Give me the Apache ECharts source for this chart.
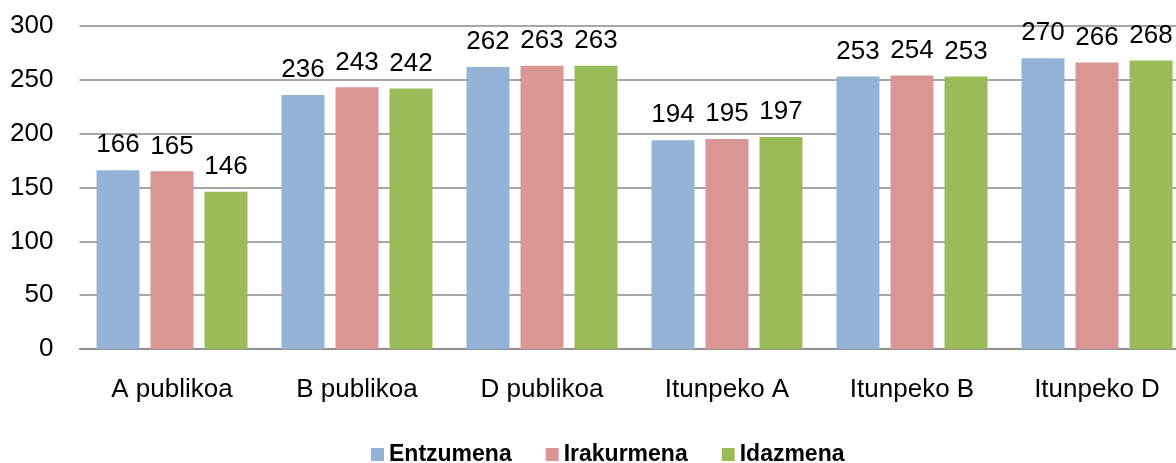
<!DOCTYPE html>
<html>
<head>
<meta charset="utf-8">
<script src="https://cdn.jsdelivr.net/npm/echarts@6/dist/echarts.min.js"></script>
<style>
  html, body { margin: 0; padding: 0; background: #fff; }
  #main { width: 1176px; height: 463px; }
</style>
</head>
<body>
<div id="main"></div>
<script>
var categories = ['A publikoa', 'B publikoa', 'D publikoa', 'Itunpeko A', 'Itunpeko B', 'Itunpeko D'];
var seriesNames = ['Entzumena', 'Irakurmena', 'Idazmena'];
var entzumena = [166, 236, 262, 194, 253, 270];
var irakurmena = [165, 243, 263, 195, 254, 266];
var idazmena = [146, 242, 263, 197, 253, 268];
var colors = ['#95B3D7', '#D99694', '#9BBB59'];

var myChart = echarts.init(document.getElementById('main'));
var font = "'Liberation Sans', Arial, sans-serif";

function makeSeries(name, data, color) {
    return {
        name: name,
        type: 'bar',
        barWidth: 43,
        barGap: '25.6%',
        itemStyle: { color: color },
        label: {
            show: true,
            position: 'top',
            distance: 12,
            fontSize: 26,
            fontFamily: font,
            color: '#000'
        },
        data: data
    };
}

var option = {
    animation: false,
    backgroundColor: '#fff',
    // plot runs past the right edge of the picture
    grid: {
        left: 79.5,
        width: 1110,
        top: 26,
        height: 323,
        outerBoundsMode: 'none'
    },
    legend: {
        left: 366,
        top: 438,
        itemWidth: 13,
        itemHeight: 13,
        itemGap: 34,
        icon: 'rect',
        textStyle: {
            fontSize: 23,
            fontWeight: 'bold',
            fontFamily: font,
            color: '#000'
        },
        data: seriesNames
    },
    xAxis: {
        type: 'category',
        data: categories,
        axisTick: { show: false },
        axisLine: { lineStyle: { color: '#898989', width: 1.5 } },
        axisLabel: {
            fontSize: 26,
            fontFamily: font,
            color: '#000',
            margin: 28
        }
    },
    yAxis: {
        type: 'value',
        min: 0,
        max: 300,
        interval: 50,
        axisLine: { show: false },
        axisTick: { show: false },
        axisLabel: {
            fontSize: 26,
            fontFamily: font,
            color: '#000',
            margin: 26
        },
        splitLine: { lineStyle: { color: '#898989', width: 1.5 } }
    },
    series: [
        makeSeries(seriesNames[0], entzumena, colors[0]),
        makeSeries(seriesNames[1], irakurmena, colors[1]),
        makeSeries(seriesNames[2], idazmena, colors[2])
    ]
};
myChart.setOption(option);
</script>
</body>
</html>
